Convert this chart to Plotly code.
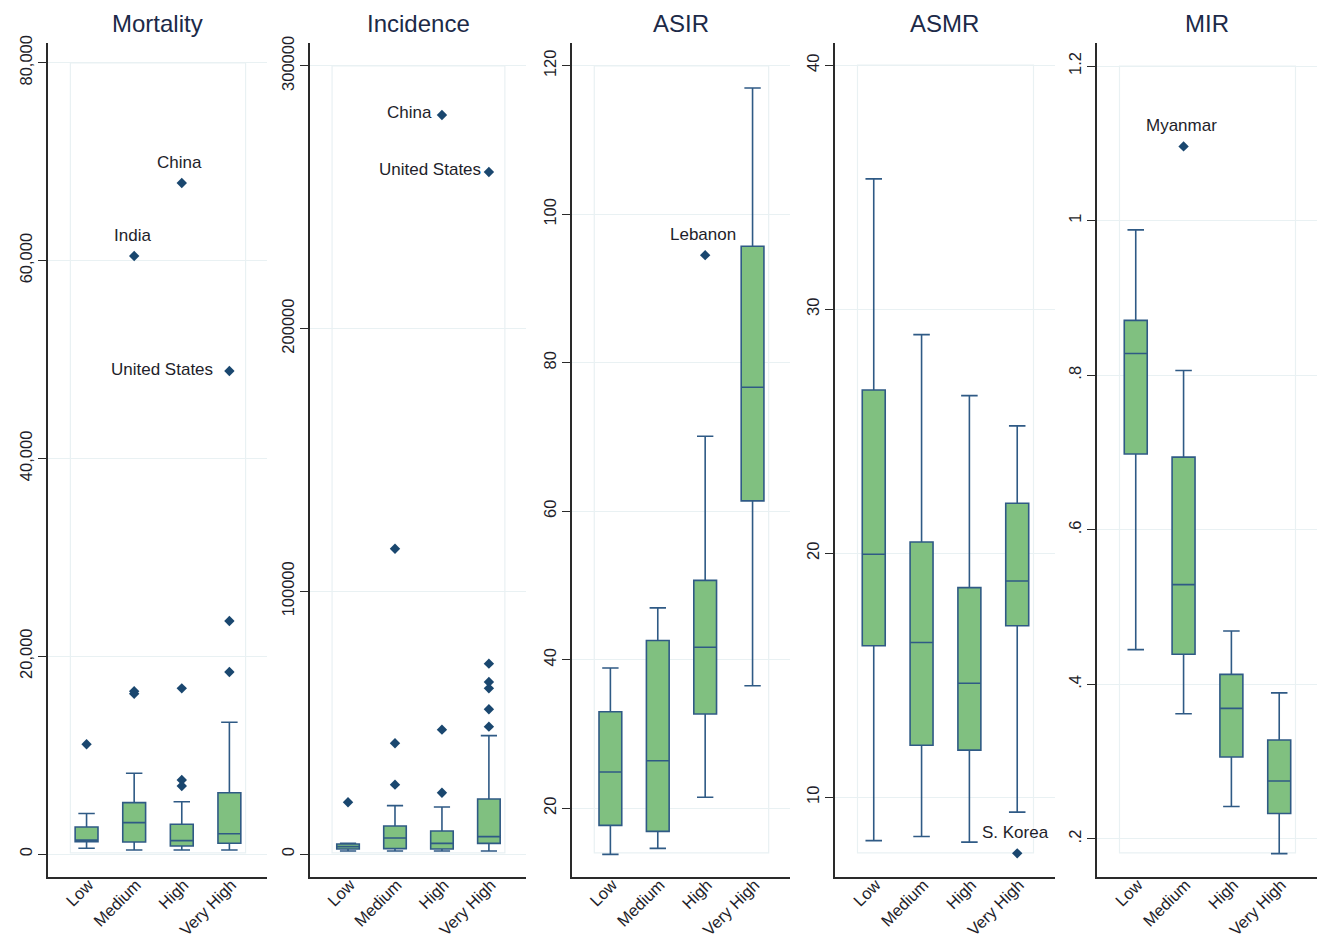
import plotly.graph_objects as go

# Development groups shown on every panel
groups = ["Low", "Medium", "High", "Very High"]

# Panel titles
titles = ["Mortality", "Incidence", "ASIR", "ASMR", "MIR"]

# Box statistics per panel: lower whisker, Q1, median, Q3, upper whisker
mort_low = [580, 400, 400, 400]
mort_q1 = [1250, 1210, 810, 1080]
mort_med = [1420, 3170, 1350, 2050]
mort_q3 = [2730, 5190, 3000, 6200]
mort_high = [4100, 8160, 5290, 13320]

inc_low = [1140, 1140, 1140, 1140]
inc_q1 = [1900, 2030, 1900, 4060]
inc_med = [2790, 6090, 4060, 6600]
inc_q3 = [3800, 10660, 8760, 20940]
inc_high = [4070, 18400, 17890, 45040]

asir_low = [13.8, 14.6, 21.5, 36.5]
asir_q1 = [17.7, 16.9, 32.7, 61.4]
asir_med = [24.9, 26.4, 41.7, 76.7]
asir_q3 = [33.0, 42.6, 50.7, 95.7]
asir_high = [38.9, 47.0, 70.1, 117.0]

asmr_low = [8.22, 8.39, 8.16, 9.39]
asmr_q1 = [16.21, 12.13, 11.93, 17.03]
asmr_med = [19.96, 16.34, 14.67, 18.86]
asmr_q3 = [26.69, 20.46, 18.59, 22.05]
asmr_high = [35.34, 28.96, 26.46, 25.22]

mir_low = [0.445, 0.362, 0.242, 0.181]
mir_q1 = [0.698, 0.439, 0.306, 0.233]
mir_med = [0.828, 0.529, 0.369, 0.275]
mir_q3 = [0.871, 0.694, 0.413, 0.328]
mir_high = [0.988, 0.806, 0.469, 0.389]

# Outlying countries per panel: (group, value)
mort_out_grp = ["Low", "Medium", "Medium", "Medium", "High", "High", "High", "High",
                "Very High", "Very High", "Very High"]
mort_out_val = [11090, 16200, 16450, 60460, 16750, 7480, 6880, 67840,
                23560, 18400, 48830]

inc_out_grp = ["Low", "Medium", "Medium", "Medium", "High", "High", "High",
               "Very High", "Very High", "Very High", "Very High", "Very High", "Very High"]
inc_out_val = [19680, 116200, 42130, 26390, 47330, 23340, 281300,
               72450, 65480, 63060, 55080, 48470, 259600]

asir_out_grp = ["High"]
asir_out_val = [94.5]

asmr_out_grp = ["Very High"]
asmr_out_val = [7.70]

mir_out_grp = ["Medium"]
mir_out_val = [1.096]

# Labelled countries: (panel index, group, value, name, placement)
label_panel = [0, 0, 0, 1, 1, 2, 3, 4]
label_grp = ["High", "Medium", "Very High", "High", "Very High", "High", "Very High", "Medium"]
label_val = [67840, 60460, 48830, 281300, 259600, 94.5, 7.70, 1.096]
label_txt = ["China", "India", "United States", "China", "United States",
             "Lebanon", "S. Korea", "Myanmar"]
label_pos = ["above", "above", "left", "left", "left", "above", "above", "above"]
label_gap = [0, 0, 14, 8, 6, 0, 0, 0]

# Axis ticks per panel
tick_vals = [
    [0, 20000, 40000, 60000, 80000],
    [0, 100000, 200000, 300000],
    [20, 40, 60, 80, 100, 120],
    [10, 20, 30, 40],
    [0.2, 0.4, 0.6, 0.8, 1.0, 1.2],
]
tick_text = [
    ["0", "20,000", "40,000", "60,000", "80,000"],
    ["0", "100000", "200000", "300000"],
    ["20", "40", "60", "80", "100", "120"],
    ["10", "20", "30", "40"],
    [".2", ".4", ".6", ".8", "1", "1.2"],
]
y_ranges = [
    [-2326, 82000],
    [-8755, 308700],
    [10.75, 123.07],
    [6.73, 40.91],
    [0.1508, 1.2298],
]

stats = [
    (mort_low, mort_q1, mort_med, mort_q3, mort_high),
    (inc_low, inc_q1, inc_med, inc_q3, inc_high),
    (asir_low, asir_q1, asir_med, asir_q3, asir_high),
    (asmr_low, asmr_q1, asmr_med, asmr_q3, asmr_high),
    (mir_low, mir_q1, mir_med, mir_q3, mir_high),
]
outliers = [
    (mort_out_grp, mort_out_val),
    (inc_out_grp, inc_out_val),
    (asir_out_grp, asir_out_val),
    (asmr_out_grp, asmr_out_val),
    (mir_out_grp, mir_out_val),
]

W, H = 1317, 940
panel_px = [(48, 267), (310, 526), (572, 790), (835, 1055), (1097, 1317)]
y_dom = [1 - 877 / H, 1 - 43 / H]
x_range = [-0.81, 3.79]

FILL = "#80c080"
LINE = "#2f5a85"
DOT = "#1a476f"
GRID = "#e9f1f3"
AXIS = "#2a2a2a"
TXT = "#1e1e2a"
FONT = "Liberation Sans, Arial, sans-serif"

fig = go.Figure()
layout = dict(
    width=W, height=H,
    margin=dict(l=0, r=0, t=0, b=0, autoexpand=False),
    paper_bgcolor="white", plot_bgcolor="white",
    showlegend=False,
    font=dict(family=FONT, color=TXT),
)
annotations = []
shapes = []

for i in range(5):
    sfx = "" if i == 0 else str(i + 1)
    xa, ya = "x" + sfx, "y" + sfx
    lo, q1, med, q3, hi = stats[i]
    fig.add_trace(go.Box(
        x=groups, q1=q1, median=med, q3=q3, lowerfence=lo, upperfence=hi,
        xaxis=xa, yaxis=ya, width=0.48, whiskerwidth=0.72,
        fillcolor=FILL, line=dict(color=LINE, width=1.6),
        boxpoints=False, hoverinfo="skip",
    ))
    og, ov = outliers[i]
    fig.add_trace(go.Scatter(
        x=og, y=ov, mode="markers", xaxis=xa, yaxis=ya,
        marker=dict(symbol="diamond", size=8, color=DOT, line=dict(width=0)),
        hoverinfo="skip",
    ))

    x0p, x1p = panel_px[i]
    layout["xaxis" + sfx] = dict(
        domain=[x0p / W, x1p / W], anchor=ya, automargin=False,
        type="category", categoryorder="array", categoryarray=groups,
        range=x_range, showgrid=False, zeroline=False,
        showline=True, linecolor=AXIS, linewidth=1.6,
        ticks="", tickangle=-45, ticklabelstandoff=-10, ticklabelshift=2,
        tickfont=dict(family=FONT, size=16.5, color=TXT),
    )
    layout["yaxis" + sfx] = dict(
        domain=y_dom, anchor=xa, range=y_ranges[i], automargin=False,
        tickvals=tick_vals[i], ticktext=tick_text[i], tickangle=-90,
        showgrid=True, gridcolor=GRID, gridwidth=1, zeroline=False,
        showline=True, linecolor=AXIS, linewidth=1.6,
        ticks="outside", ticklen=8, tickcolor=AXIS, tickwidth=1.4,
        tickfont=dict(family=FONT, size=16.5, color=TXT),
    )

    # Light inner plot-region frame
    r0, r1 = y_ranges[i]
    shapes.append(dict(
        type="rect", xref=xa, yref=ya, layer="below",
        x0=-0.34, x1=3.34, y0=r0 + 0.029 * (r1 - r0), y1=tick_vals[i][-1],
        line=dict(color=GRID, width=1.2), fillcolor="rgba(0,0,0,0)",
    ))

    annotations.append(dict(
        text=titles[i], xref="paper", yref="paper",
        x=(x0p + x1p) / 2 / W, y=1 - 23 / H, xanchor="center", yanchor="middle",
        showarrow=False, font=dict(family=FONT, size=24, color="#1c2a48"),
    ))

for p, g, v, t, pos, gap in zip(label_panel, label_grp, label_val, label_txt,
                                 label_pos, label_gap):
    sfx = "" if p == 0 else str(p + 1)
    if pos == "above":
        annotations.append(dict(
            text=t, x=g, y=v, xref="x" + sfx, yref="y" + sfx,
            xanchor="center", yanchor="bottom", yshift=9, xshift=-2,
            showarrow=False, font=dict(family=FONT, size=17, color=TXT),
        ))
    else:
        annotations.append(dict(
            text=t, x=g, y=v, xref="x" + sfx, yref="y" + sfx,
            xanchor="right", yanchor="middle", xshift=-gap, yshift=2,
            showarrow=False, font=dict(family=FONT, size=17, color=TXT),
        ))

layout["annotations"] = annotations
layout["shapes"] = shapes
fig.update_layout(**layout)
fig.write_html("out.html")
